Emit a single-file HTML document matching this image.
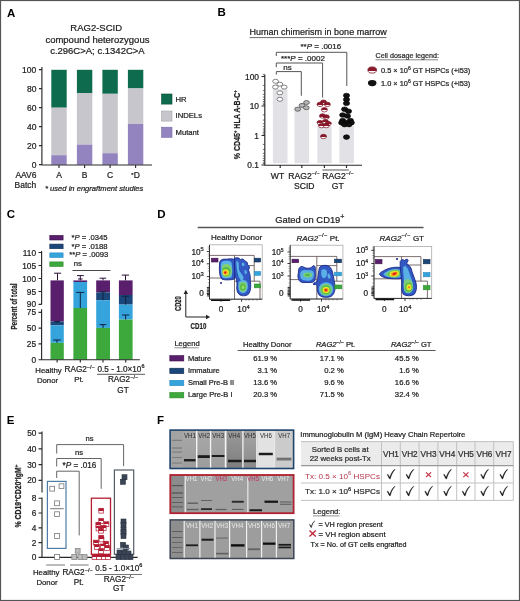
<!DOCTYPE html>
<html><head><meta charset="utf-8">
<style>
html,body{margin:0;padding:0;background:#fff;}
body{width:520px;height:601px;overflow:hidden;}
svg{display:block;filter:blur(0.3px);font-family:"Liberation Sans",sans-serif;}
.pl{font-weight:bold;font-size:11.5px;fill:#000;}
.t8{font-size:8px;fill:#222;}
.ax{stroke:#2a2a2a;stroke-width:1.15;fill:none;}
g[fill="#222"] text,text[fill="#222"],g[fill="#333"] text,text[fill="#333"]{stroke:#222;stroke-width:0.22px;}
</style></head>
<body>
<svg width="520" height="601" viewBox="0 0 520 601">
<rect x="0" y="0" width="520" height="601" fill="#fff"/>

<!-- ============ PANEL A ============ -->
<g id="pA">
<text class="pl" x="7" y="16.5">A</text>
<g font-size="9.5" fill="#222" text-anchor="middle">
<text x="96.2" y="31">RAG2-SCID</text>
<text x="97.4" y="42.7">compound heterozygous</text>
<text x="97.4" y="53.6">c.296C&gt;A; c.1342C&gt;A</text>
</g>
<!-- bars -->
<g>
<rect x="51.3" y="69.8" width="15.4" height="37.9" fill="#0e6b4d"/>
<rect x="51.3" y="107.7" width="15.4" height="47.5" fill="#c7c6cc"/>
<rect x="51.3" y="155.2" width="15.4" height="9.6" fill="#9384c0"/>
<rect x="76.9" y="69.8" width="15.4" height="23.2" fill="#0e6b4d"/>
<rect x="76.9" y="93" width="15.4" height="51.6" fill="#c7c6cc"/>
<rect x="76.9" y="144.6" width="15.4" height="20.2" fill="#9384c0"/>
<rect x="102.4" y="69.8" width="15.4" height="24" fill="#0e6b4d"/>
<rect x="102.4" y="93.8" width="15.4" height="59.4" fill="#c7c6cc"/>
<rect x="102.4" y="153.2" width="15.4" height="11.6" fill="#9384c0"/>
<rect x="127.9" y="69.8" width="15.4" height="18.6" fill="#0e6b4d"/>
<rect x="127.9" y="88.4" width="15.4" height="35.6" fill="#c7c6cc"/>
<rect x="127.9" y="124" width="15.4" height="40.8" fill="#9384c0"/>
</g>
<path class="ax" d="M41.9 67V165H152 M39 69.6H42 M39 88.6H42 M39 107.6H42 M39 126.6H42 M39 145.6H42 M39 164.6H42 M59 165V168 M84.6 165V168 M110.1 165V168 M135.6 165V168"/>
<g font-size="8.5" fill="#222" text-anchor="end">
<text x="36.3" y="72.6">100</text>
<text x="36.5" y="91.5">80</text>
<text x="36.5" y="110.5">60</text>
<text x="36.5" y="129.5">40</text>
<text x="36.5" y="148.5">20</text>
<text x="36.5" y="167.5">0</text>
</g>
<g font-size="8.5" fill="#222" text-anchor="middle">
<text x="59" y="177.7">A</text>
<text x="84.6" y="177.7">B</text>
<text x="110.1" y="177.7">C</text>
<text x="135.6" y="177.7"><tspan font-size="6" dy="-1">*</tspan><tspan dy="1">D</tspan></text>
</g>
<g font-size="8.5" fill="#222">
<text x="15.4" y="177.7">AAV6</text>
<text x="14.5" y="187.7">Batch</text>
</g>
<text x="45" y="191" font-size="7.6" font-style="italic" fill="#222">* used in engraftment studies</text>
<rect x="161.6" y="94" width="10.4" height="10.1" fill="#0e6b4d" stroke="#0a4a36" stroke-width="0.6"/>
<rect x="161.6" y="111" width="10.4" height="10.1" fill="#c7c6cc" stroke="#a8a7ad" stroke-width="0.6"/>
<rect x="161.6" y="127.2" width="10.4" height="10.1" fill="#9384c0" stroke="#7a6aa8" stroke-width="0.6"/>
<g font-size="7.7" fill="#222">
<text x="175.5" y="101.5">HR</text>
<text x="175.5" y="118.3">INDELs</text>
<text x="175.5" y="134.6">Mutant</text>
</g>
</g>

<!-- ============ PANEL B ============ -->
<g id="pB">
<text class="pl" x="217.5" y="16">B</text>
<text x="249.6" y="35" font-size="9" fill="#222">Human chimerism in bone marrow</text>
<line x1="249.6" y1="37.6" x2="386.5" y2="37.6" stroke="#444" stroke-width="0.8"/>
<!-- bars -->
<g fill="#e1e1e6">
<rect x="272.9" y="89.2" width="14.6" height="74"/>
<rect x="294.5" y="106.7" width="14.6" height="56.5"/>
<rect x="317.3" y="126.4" width="14.4" height="36.8"/>
<rect x="339.4" y="126.4" width="14.5" height="36.8"/>
</g>
<!-- axes -->
<path class="ax" d="M264.8 74.4V165.2H362 M261.5 76.5H264.8 M261.5 106H264.8 M261.5 135.5H264.8 M261.5 165H264.8 M280.2 165V168 M301.8 165V168 M324.4 165V168 M346.5 165V168"/>
<path stroke="#333" stroke-width="0.7" fill="none" d="M262.8 74.4H264.8 M262.8 85.4H264.8M262.8 90.6H264.8M262.8 94.3H264.8M262.8 97.1H264.8M262.8 99.5H264.8M262.8 101.5H264.8M262.8 103.2H264.8M262.8 104.6H264.8
M262.8 114.9H264.8M262.8 120.1H264.8M262.8 123.8H264.8M262.8 126.6H264.8M262.8 129H264.8M262.8 131H264.8M262.8 132.7H264.8M262.8 134.1H264.8
M262.8 144.4H264.8M262.8 149.6H264.8M262.8 153.3H264.8M262.8 156.1H264.8M262.8 158.5H264.8M262.8 160.5H264.8M262.8 162.2H264.8M262.8 163.6H264.8"/>
<g font-size="8.4" fill="#222" text-anchor="end">
<text x="259" y="79.5">100</text>
<text x="259" y="109">10</text>
<text x="259" y="138.6">1</text>
<text x="259" y="168.2">0.1</text>
</g>
<text transform="translate(240.2 159.2) rotate(-90) scale(0.734 1)" font-size="9.6" font-weight="bold" fill="#222">% CD45<tspan dy="-3" font-size="5.5">+</tspan><tspan dy="3"> HLA A-B-C</tspan><tspan dy="-3" font-size="5.5">+</tspan></text>
<line x1="322.3" y1="170" x2="348.8" y2="170" stroke="#666" stroke-width="1.1"/>
<g font-size="8.6" fill="#222" text-anchor="middle">
<text x="277.5" y="178.5">WT</text>
<text x="304" y="178.5">RAG2<tspan font-size="5.5" dy="-3.5">−/−</tspan></text>
<text x="304.3" y="188.5">SCID</text>
<text x="338" y="178.5">RAG2<tspan font-size="5.5" dy="-3.5">−/−</tspan></text>
<text x="337.8" y="188.5">GT</text>
</g>
<!-- brackets -->
<path d="M276.3 74.6V71.6H301.3V95.8 M276.3 67.2V63H322.6V97.5 M276.3 56V52.3H346.8V86" stroke="#555" stroke-width="1" fill="none"/>
<g font-size="8" fill="#222">
<text x="283.3" y="69.6">ns</text>
<text x="281" y="61">***<tspan font-style="italic">P</tspan> = .0002</text>
<text x="300.5" y="49.4">**<tspan font-style="italic">P</tspan> = .0016</text>
</g>
<!-- WT open circles -->
<g fill="#fff" stroke="#666" stroke-width="0.8">
<ellipse cx="275.6" cy="81.3" rx="2.9" ry="2"/>
<ellipse cx="279.9" cy="84.2" rx="2.9" ry="2"/>
<ellipse cx="275.4" cy="87.1" rx="2.9" ry="2"/>
<ellipse cx="284.2" cy="87.1" rx="2.9" ry="2"/>
<ellipse cx="279.9" cy="92.8" rx="2.9" ry="2"/>
<ellipse cx="279.9" cy="99.3" rx="2.9" ry="2"/>
</g>
<g fill="#b5b5b5" stroke="#555" stroke-width="0.8">
<ellipse cx="306.5" cy="102.5" rx="2.9" ry="2"/>
<ellipse cx="302" cy="105.4" rx="2.9" ry="2"/>
<ellipse cx="306.3" cy="107.7" rx="2.9" ry="2"/>
<ellipse cx="297.7" cy="109.2" rx="2.9" ry="2"/>
</g>
<!-- red half circles -->
<defs>
<linearGradient id="half" x1="0" y1="0" x2="0" y2="1"><stop offset="0.62" stop-color="#8c1a2c"/><stop offset="0.62" stop-color="#fff"/></linearGradient>
</defs>
<g fill="url(#half)" stroke="#7a1424" stroke-width="0.7">
<ellipse cx="323.5" cy="102.2" rx="3" ry="2.2"/>
<ellipse cx="320" cy="104.4" rx="3" ry="2.2"/>
<ellipse cx="327.3" cy="104.4" rx="3" ry="2.2"/>
<ellipse cx="324.4" cy="109.8" rx="3" ry="2.2"/>
<ellipse cx="322.5" cy="116" rx="3" ry="2.2"/>
<ellipse cx="326.3" cy="117" rx="3" ry="2.2"/>
<ellipse cx="320" cy="122.6" rx="3" ry="2.2"/>
<ellipse cx="325.4" cy="121.6" rx="3" ry="2.2"/>
<ellipse cx="328.3" cy="123.6" rx="3" ry="2.2"/>
<ellipse cx="321.5" cy="125.6" rx="3" ry="2.2"/>
<ellipse cx="326.3" cy="125.6" rx="3" ry="2.2"/>
<ellipse cx="323.5" cy="136.5" rx="3" ry="2.2"/>
</g>
<g fill="#111" stroke="#000" stroke-width="0.6">
<ellipse cx="346.5" cy="95.5" rx="3.1" ry="2.3"/>
<ellipse cx="346.5" cy="99.5" rx="3.1" ry="2.3"/>
<ellipse cx="346.5" cy="103.3" rx="3.1" ry="2.3"/>
<ellipse cx="344.6" cy="109.2" rx="3.1" ry="2.3"/>
<ellipse cx="348.5" cy="111.2" rx="3.1" ry="2.3"/>
<ellipse cx="342.7" cy="115" rx="3.1" ry="2.3"/>
<ellipse cx="347.5" cy="116" rx="3.1" ry="2.3"/>
<ellipse cx="342.7" cy="120.6" rx="3.1" ry="2.3"/>
<ellipse cx="350.4" cy="120.6" rx="3.1" ry="2.3"/>
<ellipse cx="346.5" cy="122.6" rx="3.1" ry="2.3"/>
<ellipse cx="341.7" cy="122.8" rx="3.1" ry="2.3"/>
<ellipse cx="351.3" cy="122.8" rx="3.1" ry="2.3"/>
<ellipse cx="344.5" cy="124.6" rx="3.1" ry="2.3"/>
<ellipse cx="349" cy="124.6" rx="3.1" ry="2.3"/>
<ellipse cx="346.5" cy="137.1" rx="3.1" ry="2.3"/>
</g>
<!-- legend -->
<text x="375.5" y="58" font-size="7.2" fill="#333">Cell dosage legend:</text>
<line x1="375.5" y1="59.8" x2="438" y2="59.8" stroke="#555" stroke-width="0.7"/>
<ellipse cx="372.2" cy="70" rx="4.3" ry="3.1" fill="url(#half)" stroke="#7a1424" stroke-width="0.8"/>
<ellipse cx="372.2" cy="83.1" rx="4.3" ry="3.1" fill="#111"/>
<g font-size="7.4" fill="#222">
<text x="381" y="72.8">0.5 × 10<tspan font-size="5" dy="-3">6</tspan><tspan dy="3"> GT HSPCs (+i53)</tspan></text>
<text x="381" y="85.8">1.0 × 10<tspan font-size="5" dy="-3">6</tspan><tspan dy="3"> GT HSPCs (+i53)</tspan></text>
</g>
</g>

<!-- ============ PANEL C ============ -->
<g id="pC">
<text class="pl" x="6.8" y="218.2">C</text>
<!-- legend -->
<g stroke-width="0.6">
<rect x="49.8" y="235.4" width="13.3" height="4.6" fill="#5a1f6c" stroke="#3b0f4a"/>
<rect x="49.8" y="244.1" width="13.3" height="4.6" fill="#1b467a" stroke="#102a50"/>
<rect x="49.8" y="252.9" width="13.3" height="4.6" fill="#35a4dd" stroke="#2a88c0"/>
<rect x="49.8" y="261.9" width="13.3" height="4.6" fill="#3da83c" stroke="#2a8a2a"/>
</g>
<g font-size="7.7" fill="#222">
<text x="71.5" y="239.8">*<tspan font-style="italic">P</tspan> = .0345</text>
<text x="71.5" y="248.5">*<tspan font-style="italic">P</tspan> = .0188</text>
<text x="69.2" y="257.4">**<tspan font-style="italic">P</tspan> = .0093</text>
<text x="73.8" y="266.2">ns</text>
</g>
<line x1="72.4" y1="270.5" x2="110.4" y2="270.5" stroke="#333" stroke-width="0.9"/>
<!-- bars -->
<!-- bar1 -->
<rect x="50.5" y="280.4" width="13.3" height="41.2" fill="#5a1f6c"/>
<rect x="50.5" y="321.6" width="13.3" height="3.8" fill="#1b467a"/>
<rect x="50.5" y="325.4" width="13.3" height="17.4" fill="#35a4dd"/>
<rect x="50.5" y="342.8" width="13.3" height="16.9" fill="#3da83c"/>
<!-- bar2 -->
<rect x="73.4" y="280.4" width="13.7" height="1.6" fill="#5a1f6c"/>
<rect x="73.4" y="282" width="13.7" height="26" fill="#35a4dd"/>
<rect x="73.4" y="308" width="13.7" height="51.7" fill="#3da83c"/>
<!-- bar3 -->
<rect x="96.2" y="280.4" width="13.8" height="12" fill="#5a1f6c"/>
<rect x="96.2" y="292.4" width="13.8" height="7.8" fill="#1b467a"/>
<rect x="96.2" y="300.2" width="13.8" height="27.7" fill="#35a4dd"/>
<rect x="96.2" y="327.9" width="13.8" height="31.8" fill="#3da83c"/>
<!-- bar4 -->
<rect x="118.9" y="280.4" width="13.7" height="14.6" fill="#5a1f6c"/>
<rect x="118.9" y="295" width="13.7" height="9.6" fill="#1b467a"/>
<rect x="118.9" y="304.6" width="13.7" height="15" fill="#35a4dd"/>
<rect x="118.9" y="319.6" width="13.7" height="40.1" fill="#3da83c"/>
<!-- error bars -->
<path fill="none" stroke="#2a1038" stroke-width="1" d="M57.5 280.4V273.2M54.1 273.2H61.1 M80.3 280.4V275.6M77 275.6H83.8M78 279H82.6 M103 280.4V278.2M99.5 278.2H106.2 M125.5 280.4V275.1M121.8 275.1H129.1"/>
<path fill="none" stroke="#0f2340" stroke-width="1" d="M57 340V342.8M53.2 340H60.8 M80.3 292.4V308M76.1 292.4H84.3 M103 324.6V327.9M99.6 324.6H106.3 M125.6 315V319.6M122 315H129.2 M103 291.8V300.2M99.8 291.8H106.2 M125.6 296.2V304.6M122.2 296.2H129 M57 321.6V323M54 321.6H60"/>
<!-- axes -->
<path class="ax" d="M41.6 251V304.4 M41.6 309.2V359.7H139.8 M38.5 252.5H41.6 M38.5 265.5H41.6 M38.5 278.5H41.6 M38.5 291.5H41.6 M38.5 304.4H41.6 M38.5 312.3H41.6 M38.5 328.1H41.6 M38.5 343.9H41.6 M38.5 359.7H41.6 M57.1 359.7V362.5 M80.3 359.7V362.5 M103 359.7V362.5 M125.7 359.7V362.5"/>
<g font-size="8.3" fill="#222" text-anchor="end">
<text x="36" y="255.5">110</text>
<text x="36" y="268.5">105</text>
<text x="36" y="281.5">100</text>
<text x="36" y="294.5">95</text>
<text x="36" y="307.4">90</text>
<text x="36" y="315.3">75</text>
<text x="36" y="331.1">50</text>
<text x="36" y="346.9">25</text>
<text x="36" y="362.7">0</text>
</g>
<text transform="translate(17.4 329.6) rotate(-90) scale(0.72 1)" font-size="8.8" font-weight="bold" fill="#222">Percent of total</text>
<g font-size="8.2" fill="#222" text-anchor="middle">
<text x="48.5" y="373" font-size="7.8">Healthy</text>
<text x="47.5" y="383" font-size="7.8">Donor</text>
<text x="79.7" y="372">RAG2<tspan font-size="5.5" dy="-3.5">−/−</tspan></text>
<text x="79" y="382.3" font-size="7.8">Pt.</text>
<text x="121" y="371.7">0.5 - 1.0×10<tspan font-size="5.5" dy="-3.5">6</tspan></text>
<text x="123" y="382.3">RAG2<tspan font-size="5.5" dy="-3.5">−/−</tspan></text>
<text x="123" y="392.5">GT</text>
</g>
<line x1="97" y1="374.3" x2="145" y2="374.3" stroke="#333" stroke-width="0.8"/>
</g>

<!-- ============ PANEL D ============ -->
<g id="pD">
<defs>
<filter id="bl" x="-30%" y="-30%" width="160%" height="160%"><feGaussianBlur stdDeviation="0.6"/></filter>
</defs>
<text class="pl" x="157.2" y="217.7">D</text>
<text x="275.2" y="222.6" font-size="9.4" fill="#222">Gated on CD19<tspan font-size="7" dy="-3.8">+</tspan></text>
<line x1="197.7" y1="227.5" x2="423.5" y2="227.5" stroke="#555" stroke-width="1.4"/>
<g font-size="8" fill="#222">
<text x="211" y="240">Healthy Donor</text>
<text x="296.5" y="240.6"><tspan font-style="italic">RAG2</tspan><tspan font-size="5.8" dy="-3.2" letter-spacing="0.3">−/−</tspan><tspan dy="3.2"> Pt.</tspan></text>
<text x="379.6" y="240.6"><tspan font-style="italic">RAG2</tspan><tspan font-size="5.8" dy="-3.2" letter-spacing="0.3">−/−</tspan><tspan dy="3.2"> GT</tspan></text>
</g>
<!-- plot boxes -->
<g fill="none" stroke="#aaa" stroke-width="0.8">
<rect x="209.5" y="244.8" width="52.7" height="54.4"/>
<rect x="290.2" y="245.2" width="52.7" height="53.8"/>
<rect x="374" y="246.5" width="57.7" height="51.9"/>
</g>
<!-- gates -->
<g fill="none" stroke="#5a4a4a" stroke-width="0.8">
<path d="M209.5 255.4H254.2 M234.5 255.4V299.2 M209.5 278H234.5 M244.3 265.6H254.2 M254.2 255.4V281.2 M234.5 281.2H260V299.2"/>
<path d="M290.2 256.4H336.8 M316.8 256.4V299 M290.2 279.6H316.8 M316.8 265.6H336.8 M336.8 256.4V281.2 M316.8 281.2H342.9"/>
<path d="M374 256.6H420.9 M401.6 256.6V298.4 M374 278.8H401.6 M401.6 265H420.9 M420.9 256.6V281.1 M401.6 281.1H427.4V298.4"/>
</g>
<!-- density blobs plot1 -->
<g filter="url(#bl)" stroke-linejoin="round">
<path d="M219.6 263 C220 259.5 223 258.8 227 259.2 C230 258.6 233 258.8 234.5 259.5 L234.5 279 C231 280 226 280.2 222.5 279.5 C220 278 219.3 273 219.4 268 Z" fill="#3158c4" stroke="#1c2a88" stroke-width="0.9"/>
<path d="M221 264 C221.3 261 224 260.3 227.5 260.8 C230 260.8 231.5 262 231.8 264 C232.5 268 232.5 274 231.5 277.5 C228.5 278.5 225 278.6 222.8 277.8 C221 276 220.6 270 221 264Z" fill="#5ab2e6"/>
<path d="M221.8 267.5 C222.3 264.5 225 263.5 228 264.2 C231 265 232 268 231.8 272 C231.5 276 229 277.6 226 277.4 C223 277 221.6 273 221.8 267.5Z" fill="#84cf70"/>
<path d="M222.6 268.5 C224.5 266.3 228.5 266.5 230.2 269 C231 272.5 229.8 276 226.5 276.3 C223.5 276.3 222.3 273 222.6 268.5Z" fill="#52bb46"/>
<ellipse cx="225.8" cy="272.4" rx="3.3" ry="3.2" fill="#e4e22a"/>
<ellipse cx="225.4" cy="272.6" rx="2" ry="1.9" fill="#f29a1c"/>
<ellipse cx="225.2" cy="272.6" rx="1.2" ry="1.1" fill="#e4201c"/>
<path d="M234.5 258.3 C237 257.3 239.5 258 240.5 259.5 C242 258.5 244 259 244.5 260.8 C246 261 248 262.5 247.5 264.5 C249.5 265.5 250 268 248.5 270 C250 273 250.5 277 250.3 281 C251 285 251 290 249 293.5 C247 296 243 296.3 240 295 C237 293 236.3 289 237 285 C237 281 236 278 235 276 L234.5 270 Z" fill="#3158c4" stroke="#1c2a88" stroke-width="0.9"/>
<path d="M236.2 261.5 C237.5 261 238.5 262 238.8 263.5 C239 266 238.5 269 239.5 271 C240.5 273 242 274 243 276 C244 278 243.5 280 242 280.5 C240.5 280.5 239.5 278.5 238.5 276 C237.5 273 236.5 268 236.2 261.5Z" fill="#5ab2e6"/>
<path d="M242 263 C243.5 262.5 244.8 263.5 244.6 265 C244 266.5 242.3 266.5 241.8 265 Z" fill="#5ab2e6"/>
<path d="M244.5 270 C246 269.5 247 271 246.8 273 C246.5 274.5 245 274.5 244.5 273 Z" fill="#5ab2e6"/>
<path d="M238.3 283 C239.5 279.5 245 279 247.2 282 C248.6 286 248 291 244.5 293 C240.5 293.8 238.5 291 238.3 287 Z" fill="#5ab2e6"/>
<path d="M239.3 284 C240.5 281.5 244.5 281.2 246.3 283.5 C247.3 287 246.5 290.5 243.8 291.8 C240.8 292.2 239.4 290 239.3 287 Z" fill="#84cf70"/>
<ellipse cx="242.8" cy="287" rx="2.8" ry="3.6" fill="#52bb46"/>
<ellipse cx="243" cy="287.2" rx="1.4" ry="1.9" fill="#98d868"/>
<circle cx="221" cy="283" r="1" fill="#1c2a88"/>
</g>
<!-- density blobs plot2 -->
<g filter="url(#bl)" stroke-linejoin="round">
<path d="M298.5 272 C298 268.5 300 266.2 302.5 266.5 C304.5 267.5 306 268.5 309 268.2 C311.5 268 312.5 266 314 265.5 C315.5 266.5 315.5 269 315.3 272 C315.5 276 315.5 279 314.5 281 C313 283 310 282.5 306 282.5 C302 283 299.5 282 298.6 279.5 C297.5 277 298 274.5 298.5 272Z" fill="#3158c4" stroke="#1c2a88" stroke-width="0.9"/>
<path d="M300.5 272.5 C301.5 270 304 269.5 307 270.3 C310 270.2 313 270 313.8 272.5 C314.2 276 313.5 279.5 310 280.5 C306 281 302.5 280.5 301 278.5 C300 276.5 300 274.5 300.5 272.5Z" fill="#58b0e6"/>
<ellipse cx="307.6" cy="275" rx="4.4" ry="2.4" fill="#7ccc78"/>
<ellipse cx="307.6" cy="275" rx="2.6" ry="1.3" fill="#4cbc4a"/>
<path d="M319.5 267.5 C320.5 265.5 324 265 327 265.5 C330 266 331.5 268.5 332.5 272 C333.5 276 334 280 334.8 284.5 C335.5 289 334.8 294 331 296.5 C327 298 322 297.5 319.5 295.5 C317.2 293 317 289 317.2 285.5 C316.5 284.5 314.5 284.5 313.5 284 C314 282.5 316 282 317.5 281.5 C317.8 277 318.5 271 319.5 267.5Z" fill="#3158c4" stroke="#1c2a88" stroke-width="0.9"/>
<path d="M321.5 270 C323 268.8 325.5 269 326.5 270.5 C327.5 272.5 327 275 326 277 C325 278.5 323 278.5 322 277 C321 275 321 272 321.5 270Z" fill="#58b0e6"/>
<path d="M327.8 273.5 C329 273 330.3 274.5 330.5 276.5 C330.6 278.5 329.3 279.3 328.3 278.3 C327.5 277 327.3 275 327.8 273.5Z" fill="#58b0e6"/>
<ellipse cx="326" cy="289.3" rx="7.2" ry="7" fill="#58b0e6"/>
<ellipse cx="326" cy="289.6" rx="6" ry="5.8" fill="#7ccc78"/>
<ellipse cx="326" cy="289.8" rx="4.8" ry="4.6" fill="#4cbc4a"/>
<ellipse cx="326" cy="290" rx="3.5" ry="3.3" fill="#e6e42a"/>
<ellipse cx="326" cy="290.1" rx="2.3" ry="2.2" fill="#f29a1c"/>
<ellipse cx="326" cy="290.1" rx="1.3" ry="1.2" fill="#e4201c"/>
<circle cx="314" cy="284.3" r="0.9" fill="#1c2a88"/>
</g>
<!-- density blobs plot3 -->
<g filter="url(#bl)" stroke-linejoin="round">
<path d="M379.3 274.2 C380 272.5 383 271 386 269.5 C390 267.6 395 267 399 267.3 L401.6 267.5 L401.6 278.6 C397 279 391 279 386 278 C383 277.2 380.5 276 379.3 274.2Z" fill="#3158c4" stroke="#1c2a88" stroke-width="0.9"/>
<path d="M383.5 274 C385 272.3 389 270 393.5 269.3 C397 269 400 269.3 400.8 270.5 L400.8 277.3 C396 278 390 277.7 386.5 276.5 C384.5 275.8 383.5 275 383.5 274Z" fill="#58b0e6"/>
<path d="M385.5 274 C387 272 391 270 395 269.6 C398.5 269.4 400.5 270.5 400.6 272.5 C400.7 275.5 399 277.3 394.5 277.6 C390 277.8 386.8 276.3 385.5 274Z" fill="#7ccc78"/>
<path d="M387.5 274 C389 272.3 392 270.8 395 270.6 C398 270.5 399.8 271.3 399.9 273 C400 275.3 398.5 276.7 394.7 276.9 C391 277 388.5 275.8 387.5 274Z" fill="#4cbc4a"/>
<ellipse cx="394.3" cy="273.8" rx="5" ry="2.9" fill="#e6e42a" transform="rotate(-10 394.3 273.8)"/>
<ellipse cx="394.4" cy="273.8" rx="3.3" ry="1.9" fill="#f29a1c" transform="rotate(-15 394.4 273.8)"/>
<ellipse cx="394.5" cy="273.7" rx="2.2" ry="1.1" fill="#e4201c" transform="rotate(-20 394.5 273.7)"/>
<path d="M400.2 261.5 C401 259.5 403.2 259 404.5 260.5 C405.5 259.2 407.5 258.8 408.2 260 C408 261.5 406.5 262.5 406.8 264 C409.5 265 411.5 268 412 271.5 C413 275 415 279 416 283 C417 287 416.5 292 414 294.5 C411 296.3 406 296 403.5 294.5 C401.5 292.5 401.5 289 401.8 285 C402 281 401.5 278 401 275 C400.5 271 400 266 400.2 261.5Z" fill="#3158c4" stroke="#1c2a88" stroke-width="0.9"/>
<path d="M403.5 266.5 C404.5 265.5 406 266 407 267.5 C408.5 270 409.5 273 410.5 276.5 C411.8 280 413.5 284 413.2 288 C412.8 292 410.5 293.5 407.5 293.3 C404.8 293 403.8 290.5 403.9 287 C404 283 403.8 279 403.5 275 C403.2 271 403 268.5 403.5 266.5Z" fill="#58b0e6"/>
<path d="M404 281 C405.5 278.5 409 278.5 411.5 281 C413.3 284 413.5 289 411 292 C408.5 293.5 405.5 293 404.5 290.5 C403.5 287.5 403.5 284 404 281Z" fill="#7ccc78"/>
<ellipse cx="408.8" cy="287.2" rx="3.6" ry="4.5" fill="#4cbc4a"/>
<ellipse cx="409" cy="287.3" rx="2.6" ry="3.2" fill="#e6e42a"/>
<ellipse cx="409.2" cy="287.2" rx="1.1" ry="1" fill="#f07a1c"/>
<circle cx="397" cy="259" r="1.1" fill="#1c2a88"/>
</g>
<!-- swatches -->
<g stroke-width="0.6">
<rect x="211.5" y="258.2" width="6.5" height="3.8" fill="#5a1f6c" stroke="#3b0f4a"/>
<rect x="254.3" y="258.2" width="6.3" height="3.8" fill="#1b467a" stroke="#102a50"/>
<rect x="254.3" y="271.5" width="6.3" height="3.8" fill="#35a4dd" stroke="#2a88c0"/>
<rect x="254.3" y="284" width="6.3" height="3.8" fill="#3da83c" stroke="#2a8a2a"/>
<rect x="292" y="259.2" width="6.6" height="3.5" fill="#5a1f6c" stroke="#3b0f4a"/>
<rect x="334.6" y="259.2" width="6.8" height="3.5" fill="#1b467a" stroke="#102a50"/>
<rect x="334.6" y="272.2" width="6.8" height="3.6" fill="#35a4dd" stroke="#2a88c0"/>
<rect x="334.6" y="285" width="7.2" height="3.8" fill="#3da83c" stroke="#2a8a2a"/>
<rect x="375.4" y="259.5" width="6.6" height="4.3" fill="#5a1f6c" stroke="#3b0f4a"/>
<rect x="423.4" y="259.5" width="6.6" height="4.3" fill="#1b467a" stroke="#102a50"/>
<rect x="423.4" y="272.5" width="6.6" height="4.3" fill="#35a4dd" stroke="#2a88c0"/>
<rect x="423.4" y="285.5" width="6.6" height="4.3" fill="#3da83c" stroke="#2a8a2a"/>
</g>
<!-- axis ticks -->
<g fill="none" stroke="#222" stroke-width="0.9">
<path d="M209.5 245V299.2H262.2 M290.2 245.2V299H342.9 M374 246.5V298.4H431.7"/>
<path d="M209.5 251.5H206.8 M209.5 263.8H206.8 M209.5 276.6H206.8 M209.5 293.5H206.8 M221 299.2V301.8 M241.6 299.2V301.8"/>
<path d="M290.2 252H287.5 M290.2 263.5H287.5 M290.2 276H287.5 M290.2 293.3H287.5 M300.6 299V301.6 M321.5 299V301.6"/>
<path d="M374 250.4H371.3 M374 263.5H371.3 M374 276H371.3 M374 293.3H371.3 M384.4 298.4V301 M405 298.4V301"/>
</g>
<g fill="none" stroke="#444" stroke-width="0.5">
<path d="M209.5 247H207.8M209.5 249H207.8M209.5 254H207.8M209.5 256H207.8M209.5 258.5H207.8M209.5 266.5H207.8M209.5 268.5H207.8M209.5 271H207.8M209.5 279.5H207.8M209.5 283H207.8M209.5 286H207.8M209.5 289H207.8M209.5 291H207.8M209.5 296H207.8 M213 299.2V300.8M215 299.2V300.8M217 299.2V300.8M225 299.2V300.8M228 299.2V300.8M231 299.2V300.8M246 299.2V300.8M249 299.2V300.8M253 299.2V300.8M257 299.2V300.8"/>
<path d="M290.2 248H288.5M290.2 250H288.5M290.2 254.5H288.5M290.2 256.5H288.5M290.2 259H288.5M290.2 266.5H288.5M290.2 268.5H288.5M290.2 271H288.5M290.2 279H288.5M290.2 283H288.5M290.2 286H288.5M290.2 289H288.5M290.2 291H288.5M290.2 296H288.5 M294 299V300.6M296 299V300.6M298 299V300.6M304 299V300.6M307 299V300.6M310 299V300.6M326 299V300.6M329 299V300.6M333 299V300.6M337 299V300.6"/>
<path d="M374 247H372.3M374 249H372.3M374 253H372.3M374 255.5H372.3M374 258H372.3M374 266.5H372.3M374 268.5H372.3M374 271H372.3M374 279H372.3M374 283H372.3M374 286H372.3M374 289H372.3M374 291H372.3M374 296H372.3 M378 298.4V300M380 298.4V300M382 298.4V300M388 298.4V300M391 298.4V300M394 298.4V300M410 298.4V300M413 298.4V300M417 298.4V300M421 298.4V300"/>
</g>
<g stroke="#111" stroke-width="1.6"><path d="M211 300.2H230 M291.5 300H310 M375.5 299.4H394"/></g>
<g stroke="#222" stroke-width="0.9"><path d="M206.9 287.5H209.5M206.9 288.9H209.5M206.9 290.3H209.5M206.9 291.7H209.5M206.9 293.1H209.5M206.9 294.5H209.5M206.9 295.9H209.5M287.6 287.5H290.2M287.6 288.9H290.2M287.6 290.3H290.2M287.6 291.7H290.2M287.6 293.1H290.2M287.6 294.5H290.2M287.6 295.9H290.2M371.4 287.0H374.0M371.4 288.4H374.0M371.4 289.8H374.0M371.4 291.2H374.0M371.4 292.6H374.0M371.4 294.0H374.0M371.4 295.4H374.0"/></g>
<g font-size="8.2" fill="#222" text-anchor="end">
<text x="203.8" y="254.5">10<tspan font-size="5.8" dy="-3.2">5</tspan></text>
<text x="203.8" y="266.4">10<tspan font-size="5.8" dy="-3.2">4</tspan></text>
<text x="203.8" y="279.4">10<tspan font-size="5.8" dy="-3.2">3</tspan></text>
<text x="203.8" y="296.3">0</text>
<text x="283.6" y="254.8">10<tspan font-size="5" dy="-3">5</tspan></text>
<text x="283.6" y="266.3">10<tspan font-size="5" dy="-3">4</tspan></text>
<text x="283.6" y="278.8">10<tspan font-size="5" dy="-3">3</tspan></text>
<text x="283.6" y="296.1">0</text>
<text x="368" y="253.2">10<tspan font-size="5" dy="-3">5</tspan></text>
<text x="368" y="266.3">10<tspan font-size="5" dy="-3">4</tspan></text>
<text x="368" y="278.8">10<tspan font-size="5" dy="-3">3</tspan></text>
<text x="368" y="296.1">0</text>
</g>
<g font-size="8.2" fill="#222" text-anchor="middle">
<text x="221" y="312">0</text>
<text x="243.5" y="312">10<tspan font-size="5.8" dy="-3">4</tspan></text>
<text x="300.6" y="312.4">0</text>
<text x="323.2" y="312.4">10<tspan font-size="5.8" dy="-3">4</tspan></text>
<text x="384.4" y="312.4">0</text>
<text x="405.2" y="312.4">10<tspan font-size="5.8" dy="-3">4</tspan></text>
</g>
<!-- CD arrows -->
<path d="M185.8 317V293 M185.8 317H207" stroke="#222" stroke-width="1" fill="none"/>
<path d="M183.6 294L185.8 289.8L188 294Z M206 314.8L210.2 317L206 319.2Z" fill="#222"/>
<text transform="translate(180.9 311) rotate(-90) scale(0.66 1)" font-size="8.8" font-weight="bold" fill="#222">CD20</text>
<text transform="translate(190.6 328.6) scale(0.7 1)" font-size="8.8" font-weight="bold" fill="#222">CD10</text>
<!-- table legend -->
<text x="174.4" y="346.2" font-size="7.6" fill="#222">Legend</text>
<line x1="174.4" y1="347.8" x2="198.7" y2="347.8" stroke="#444" stroke-width="0.6"/>
<line x1="237.7" y1="350.5" x2="435.6" y2="350.5" stroke="#444" stroke-width="0.9"/>
<g font-size="7.6" fill="#222">
<text x="243" y="346.7">Healthy Donor</text>
<text x="315.9" y="346.7"><tspan font-style="italic">RAG2</tspan><tspan font-size="5" dy="-3">−/−</tspan><tspan dy="3"> Pt.</tspan></text>
<text x="390.9" y="346.7"><tspan font-style="italic">RAG2</tspan><tspan font-size="5" dy="-3">−/−</tspan><tspan dy="3"> GT</tspan></text>
</g>
<g stroke-width="0.6">
<rect x="169.8" y="355.6" width="14" height="5.4" fill="#5a1f6c" stroke="#3b0f4a"/>
<rect x="169.8" y="368.2" width="14" height="5.4" fill="#1b467a" stroke="#102a50"/>
<rect x="169.8" y="380.3" width="14" height="5.4" fill="#35a4dd" stroke="#2a88c0"/>
<rect x="169.8" y="392.5" width="14" height="5.4" fill="#3da83c" stroke="#2a8a2a"/>
</g>
<g font-size="7.5" fill="#222">
<text x="187.9" y="360.8">Mature</text>
<text x="187.9" y="372.8">Immature</text>
<text x="187.9" y="385">Small Pre-B II</text>
<text x="187.9" y="397">Large Pre-B I</text>
</g>
<g font-size="7.7" fill="#222" text-anchor="end">
<text x="277.2" y="361.1">61.9 %</text>
<text x="277.2" y="372.7">3.1 %</text>
<text x="277.2" y="385.1">13.6 %</text>
<text x="277.2" y="396.9">20.3 %</text>
<text x="343.8" y="361.1">17.1 %</text>
<text x="343.8" y="372.7">0.2 %</text>
<text x="343.8" y="385.1">9.6 %</text>
<text x="343.8" y="396.9">71.5 %</text>
<text x="418.8" y="361.1">45.5 %</text>
<text x="418.8" y="372.7">1.6 %</text>
<text x="418.8" y="385.1">16.6 %</text>
<text x="418.8" y="396.9">32.4 %</text>
</g>
</g>

<!-- ============ PANEL E ============ -->
<g id="pE">
<text class="pl" x="6.8" y="424">E</text>
<!-- axes -->
<path class="ax" d="M42 431.5V492.5 M42 497.5V557.4H137.7 M38.5 433.1H42 M38.5 448.8H42 M38.5 464.6H42 M38.5 480.3H42 M38.5 498.2H42 M38.5 513H42 M38.5 527.8H42 M38.5 542.6H42 M38.5 557.4H42"/>
<g font-size="8.3" fill="#222" text-anchor="end">
<text x="36.4" y="436.1">50</text>
<text x="36.4" y="451.8">40</text>
<text x="36.4" y="467.6">30</text>
<text x="36.4" y="483.3">20</text>
<text x="36.4" y="501.2">8</text>
<text x="36.4" y="516">6</text>
<text x="36.4" y="530.8">4</text>
<text x="36.4" y="545.6">2</text>
<text x="36.4" y="560.4">0</text>
</g>
<text transform="translate(21.2 527.4) rotate(-90) scale(0.8 1)" font-size="8.6" font-weight="bold" fill="#222">% CD19<tspan font-size="5.5" dy="-3">+</tspan><tspan dy="3">CD20</tspan><tspan font-size="5.5" dy="-3">+</tspan><tspan dy="3">IgM</tspan><tspan font-size="5.5" dy="-3">+</tspan></text>
<!-- brackets -->
<path d="M56.7 453.5V444.6H123.6V466.2 M56.7 466.5V458.5H101.2V488.8 M56.7 478V471.2H79.2V535.4" stroke="#666" stroke-width="1" fill="none"/>
<g font-size="8.2" fill="#222">
<text x="85.6" y="440.8" font-size="7.6">ns</text>
<text x="75.1" y="455" font-size="7.6">ns</text>
<text x="62.5" y="467.7">*<tspan font-style="italic">P</tspan> = .016</text>
</g>
<!-- boxes -->
<rect x="47.4" y="481.4" width="18.6" height="67" fill="none" stroke="#4d7aa6" stroke-width="1.2"/>
<rect x="91.4" y="498.2" width="19.1" height="56.1" fill="none" stroke="#b51f32" stroke-width="1.3"/>
<rect x="114.4" y="470" width="19.3" height="84.3" fill="none" stroke="#555c66" stroke-width="1.2"/>
<!-- HD squares -->
<g fill="#fff" stroke="#777" stroke-width="0.8">
<rect x="49.8" y="486.3" width="4.8" height="4.8"/>
<rect x="59.1" y="483.8" width="4.8" height="4.8"/>
<rect x="54.6" y="500.9" width="4.8" height="4.8"/>
<rect x="54.6" y="511.8" width="4.8" height="4.8"/>
<rect x="54.6" y="533.6" width="4.8" height="4.8"/>
<rect x="54.6" y="554.6" width="4.8" height="4.8"/>
</g>
<line x1="50.2" y1="508.7" x2="63.7" y2="508.7" stroke="#777" stroke-width="1"/>
<!-- Pt squares -->
<g fill="#bdbdbd" stroke="#888" stroke-width="0.8">
<rect x="75.3" y="548.4" width="4.8" height="4.8"/>
<rect x="71.8" y="554.6" width="4.8" height="4.8"/>
<rect x="77.9" y="554.6" width="4.8" height="4.8"/>
<rect x="82.2" y="554.6" width="4.8" height="4.8"/>
</g>
<!-- GT 0.5 squares -->
<defs>
<linearGradient id="halfsq" x1="0" y1="0" x2="0" y2="1"><stop offset="0.5" stop-color="#b31a30"/><stop offset="0.5" stop-color="#fff"/></linearGradient>
</defs>
<g fill="url(#halfsq)" stroke="#b31a30" stroke-width="0.7">
<rect x="98.8" y="508.3" width="4.8" height="4.8"/>
<rect x="98.8" y="518.6" width="4.8" height="4.8"/>
<rect x="95.9" y="522.4" width="4.8" height="4.8"/>
<rect x="104" y="521.8" width="4.8" height="4.8"/>
<rect x="96.1" y="526.1" width="4.8" height="4.8"/>
<rect x="101.3" y="525.6" width="4.8" height="4.8"/>
<rect x="98.6" y="528.3" width="4.8" height="4.8"/>
<rect x="98.8" y="535.3" width="4.8" height="4.8"/>
<rect x="93.6" y="540.2" width="4.8" height="4.8"/>
<rect x="99.1" y="537.1" width="4.8" height="4.8"/>
<rect x="103.6" y="541.3" width="4.8" height="4.8"/>
<rect x="94.6" y="544.6" width="4.8" height="4.8"/>
<rect x="100.6" y="544" width="4.8" height="4.8"/>
<rect x="104.6" y="545.6" width="4.8" height="4.8"/>
<rect x="98.6" y="548.9" width="4.8" height="4.8"/>
<rect x="92.1" y="554.6" width="4.8" height="4.8"/>
<rect x="96.6" y="554.6" width="4.8" height="4.8"/>
<rect x="101.6" y="554.6" width="4.8" height="4.8"/>
<rect x="105.6" y="554.6" width="4.8" height="4.8"/>
</g>
<!-- GT 1.0 squares -->
<g fill="#3b4556" stroke="#2a3240" stroke-width="0.6">
<rect x="122" y="474.7" width="5" height="5"/>
<rect x="120.4" y="479.3" width="5" height="5"/>
<rect x="121" y="519" width="5" height="5"/>
<rect x="121" y="522.3" width="5" height="5"/>
<rect x="121" y="527.1" width="5" height="5"/>
<rect x="121" y="529.8" width="5" height="5"/>
<rect x="121" y="533.6" width="5" height="5"/>
<rect x="120.5" y="542.3" width="5" height="5"/>
<rect x="123.5" y="545" width="5" height="5"/>
<rect x="117" y="550" width="5" height="5"/>
<rect x="122" y="550" width="5" height="5"/>
<rect x="126" y="551" width="5" height="5"/>
<rect x="116" y="554.6" width="5" height="5"/>
<rect x="120.5" y="554.6" width="5" height="5"/>
<rect x="125" y="554.6" width="5" height="5"/>
<rect x="129" y="554.6" width="4" height="5"/>
</g>
<line x1="116.7" y1="548.6" x2="130.2" y2="548.6" stroke="#8a9aaa" stroke-width="1"/>
<!-- x labels -->
<path d="M46.2 565H65 M70 565H88.7 M95 574.5H142" stroke="#777" stroke-width="1" fill="none"/>
<g font-size="8.2" fill="#222" text-anchor="middle">
<text x="46.2" y="575" font-size="7.8">Healthy</text>
<text x="47" y="584.5" font-size="7.8">Donor</text>
<text x="77.5" y="575">RAG2<tspan font-size="5.5" dy="-3.5">−/−</tspan></text>
<text x="78.8" y="584.5">Pt.</text>
<text x="118.8" y="570.5">0.5 - 1.0×10<tspan font-size="5.5" dy="-3.5">6</tspan></text>
<text x="118.8" y="582">RAG2<tspan font-size="5.5" dy="-3.5">−/−</tspan></text>
<text x="118.8" y="591.3">GT</text>
</g>
</g>

<!-- ============ PANEL F ============ -->
<g id="pF">
<text class="pl" x="157" y="424">F</text>
<defs>
<linearGradient id="lg1" x1="0" y1="0" x2="0" y2="1"><stop offset="0" stop-color="#a9a9a9"/><stop offset="1" stop-color="#9c9c9c"/></linearGradient>
<linearGradient id="lg4" x1="0" y1="0" x2="0" y2="1"><stop offset="0" stop-color="#9a9a9a"/><stop offset="1" stop-color="#7e7e7e"/></linearGradient>
<linearGradient id="lg5" x1="0" y1="0" x2="0" y2="1"><stop offset="0" stop-color="#a5a5a5"/><stop offset="1" stop-color="#8a8a8a"/></linearGradient>
<filter id="bb" x="-20%" y="-100%" width="140%" height="300%"><feGaussianBlur stdDeviation="0.6"/></filter>
</defs>
<!-- GEL 1 -->
<rect x="170.3" y="430.3" width="123" height="38.2" fill="url(#lg1)"/>
<rect x="170.5" y="430.5" width="12.5" height="38" fill="#a3a3a3"/>

<rect x="226.5" y="430.5" width="15.8" height="38" fill="url(#lg4)"/>
<rect x="243.5" y="430.5" width="13" height="38" fill="url(#lg5)"/>
<rect x="257.3" y="430.5" width="17" height="38" fill="#e2e2e2"/>
<rect x="275.3" y="430.5" width="17.8" height="38" fill="#cbcbcb"/>
<g fill="#f4f4f4">
<rect x="196" y="430.5" width="1.4" height="38"/>
<rect x="209.9" y="430.5" width="1.3" height="38"/>
<rect x="224.8" y="430.5" width="1.6" height="38"/>
<rect x="242.3" y="430.5" width="1.2" height="38"/>
<rect x="256.2" y="430.5" width="1.1" height="38"/>
<rect x="274.2" y="430.5" width="1.1" height="38"/>
</g>
<g filter="url(#bb)">
<g fill="#6a6a6a" opacity="0.8">
<rect x="172" y="439.8" width="10" height="1"/>
<rect x="172" y="447.5" width="10" height="1.1"/>
<rect x="172" y="451.6" width="10" height="0.9"/>
<rect x="172" y="457" width="10" height="0.9"/>
<rect x="172" y="462.6" width="10" height="0.9"/>
</g>
<g fill="#1a1a1a">
<rect x="184" y="459.1" width="11.5" height="2.3"/>
<rect x="197.8" y="455.2" width="12" height="2.8"/>
<rect x="211.8" y="455" width="12.6" height="2"/>
<rect x="228" y="459.8" width="13.5" height="2.4"/>
<rect x="244" y="459.8" width="12" height="2.4"/>
<rect x="258.8" y="452.8" width="14" height="2.4"/>
</g>
<rect x="276.5" y="457.6" width="15" height="3" fill="#777" opacity="0.85"/>
<rect x="277" y="458.4" width="14" height="1" fill="#555" opacity="0.8"/>
</g>
<rect x="170.1" y="430.1" width="123.5" height="38.4" fill="none" stroke="#1e436c" stroke-width="1.6"/>
<g font-size="7.6" fill="#2a2a2a">
<text transform="translate(184 438) scale(0.8 1)">VH1</text>
<text transform="translate(198.3 438) scale(0.8 1)">VH2</text>
<text transform="translate(212.3 438) scale(0.8 1)">VH3</text>
<text transform="translate(228.3 438) scale(0.8 1)">VH4</text>
<text transform="translate(244 438) scale(0.8 1)">VH5</text>
<text transform="translate(260 438) scale(0.8 1)">VH6</text>
<text transform="translate(278.3 438) scale(0.8 1)">VH7</text>
</g>
<!-- GEL 2 -->
<rect x="170.5" y="475" width="123" height="38" fill="#a0a0a0"/>
<rect x="170.8" y="475.3" width="13.8" height="37.6" fill="#8c8c8c"/>
<g fill="#f0f0f0">
<rect x="184.6" y="475.3" width="1.2" height="37.6"/>
<rect x="247.3" y="475.3" width="1.1" height="37.6"/>
</g>
<g filter="url(#bb)">
<g fill="#4a4a4a" opacity="0.85">
<rect x="172" y="485" width="11" height="1.2"/>
<rect x="172" y="492.4" width="11" height="1.2"/>
<rect x="172" y="497" width="11" height="0.8"/>
<rect x="172" y="502" width="11" height="0.8"/>
<rect x="172" y="506.5" width="11" height="0.8"/>
</g>
<g fill="#555" opacity="0.85">
<rect x="187.5" y="502.5" width="10.5" height="1.4"/>
<rect x="187" y="508.8" width="11.5" height="1.4"/>
<rect x="201" y="500" width="11" height="1"/>
<rect x="215.5" y="508.9" width="11" height="1.2"/>
<rect x="232" y="508.9" width="11.5" height="1.1"/>
<rect x="280" y="501.4" width="11.5" height="1.1"/>
<rect x="280" y="503.7" width="11.5" height="1.1"/>
</g>
<g fill="#2a2a2a">
<rect x="201" y="508.2" width="11" height="1.8"/>
<rect x="231.8" y="500.8" width="12" height="1.9"/>
</g>
<g fill="#151515">
<rect x="249.5" y="509.3" width="12.5" height="1.9"/>
<rect x="264.5" y="500.6" width="13.5" height="2.2"/>
</g>
</g>
<rect x="170.3" y="475" width="123.3" height="38.2" fill="none" stroke="#b0202e" stroke-width="1.8"/>
<g font-size="7.6" fill="#ececec">
<text transform="translate(185.6 481.2) scale(0.8 1)">VH1</text>
<text transform="translate(200.4 481.2) scale(0.8 1)">VH2</text>
<text transform="translate(215.4 481.2) scale(0.8 1)" fill="#c0305a">VH3</text>
<text transform="translate(231.3 481.2) scale(0.8 1)">VH4</text>
<text transform="translate(247.3 481.2) scale(0.8 1)" fill="#c0305a">VH5</text>
<text transform="translate(261.4 481.2) scale(0.8 1)">VH6</text>
<text transform="translate(277.3 481.2) scale(0.8 1)">VH7</text>
</g>
<!-- GEL 3 -->
<rect x="170.5" y="520" width="123" height="38.4" fill="#9d9d9d"/>
<rect x="170.8" y="520.3" width="13" height="38" fill="#8e8e8e"/>
<g fill="#f0f0f0">
<rect x="183.6" y="520.3" width="1.2" height="38"/>
<rect x="199.3" y="520.3" width="1.2" height="38"/>
<rect x="214.4" y="520.3" width="1.2" height="38"/>
<rect x="229" y="520.3" width="1.2" height="38"/>
<rect x="246" y="520.3" width="1.2" height="38"/>
<rect x="261" y="520.3" width="1.2" height="38"/>
<rect x="275.8" y="520.3" width="1.2" height="38"/>
</g>
<g filter="url(#bb)">
<g fill="#555" opacity="0.85">
<rect x="172" y="531" width="10.5" height="1"/>
<rect x="172" y="537" width="10.5" height="1"/>
<rect x="172" y="542" width="10.5" height="0.8"/>
<rect x="172" y="547" width="10.5" height="0.8"/>
<rect x="172" y="552" width="10.5" height="0.8"/>
<rect x="216" y="537.6" width="12" height="0.9"/>
<rect x="216" y="552.8" width="12.5" height="1.6"/>
<rect x="248" y="548.4" width="12" height="1.7"/>
</g>
<g fill="#1e1e1e">
<rect x="186" y="544.4" width="12" height="1.8"/>
<rect x="201.5" y="538.7" width="12" height="2"/>
<rect x="278.5" y="543.9" width="12.5" height="1.8"/>
<rect x="278.5" y="546.6" width="12.5" height="1.7"/>
</g>
<g fill="#0e0e0e">
<rect x="231" y="544.2" width="13.5" height="2.4"/>
<rect x="263" y="542.5" width="12.5" height="2.3"/>
</g>
</g>
<rect x="170.2" y="519.9" width="123.6" height="38.6" fill="none" stroke="#3a4452" stroke-width="1.5"/>
<g font-size="7.6" fill="#ececec">
<text transform="translate(186 527.6) scale(0.8 1)">VH1</text>
<text transform="translate(201.3 527.6) scale(0.8 1)">VH2</text>
<text transform="translate(216.3 527.6) scale(0.8 1)">VH3</text>
<text transform="translate(231.5 527.6) scale(0.8 1)">VH4</text>
<text transform="translate(248 527.6) scale(0.8 1)">VH5</text>
<text transform="translate(263 527.6) scale(0.8 1)">VH6</text>
<text transform="translate(278.3 527.6) scale(0.8 1)">VH7</text>
</g>
<!-- TABLE -->
<text x="300.3" y="437" font-size="7.6" fill="#222">Immunoglobulin M (IgM) Heavy Chain Repertoire</text>
<rect x="301" y="441.6" width="212.3" height="24" fill="#ebebeb"/>
<g stroke="#bbb" stroke-width="0.9" fill="none">
<path d="M301 441.6H513.3 M301 483H513.3 M301 500.4H513.3"/>
<path d="M381.5 441.6V500.4 M400.3 441.6V500.4 M419.1 441.6V500.4 M437.9 441.6V500.4 M456.7 441.6V500.4 M475 441.6V500.4 M493.7 441.6V500.4 M513.3 441.6V500.4"/>
</g>
<line x1="301" y1="465.6" x2="513.3" y2="465.6" stroke="#999" stroke-width="1.1"/>
<g font-size="7.8" fill="#333" text-anchor="middle">
<text x="340.2" y="452">Sorted B cells at</text>
<text x="340.2" y="461">22 weeks post-Tx</text>
</g>
<g font-size="8.2" fill="#333" text-anchor="middle">
<text x="390.9" y="456.6">VH1</text>
<text x="409.7" y="456.6">VH2</text>
<text x="428.5" y="456.6">VH3</text>
<text x="447.3" y="456.6">VH4</text>
<text x="465.9" y="456.6">VH5</text>
<text x="484.4" y="456.6">VH6</text>
<text x="503.5" y="456.6">VH7</text>
</g>
<text x="305" y="478.6" font-size="8.1" fill="#b5344a">Tx: 0.5 × 10<tspan font-size="5.8" dy="-3.4">6</tspan><tspan dy="3.4"> HSPCs</tspan></text>
<text x="305" y="494" font-size="8.1" fill="#333">Tx: 1.0 × 10<tspan font-size="5.8" dy="-3.4">6</tspan><tspan dy="3.4"> HSPCs</tspan></text>
<!-- checks -->
<defs>
<path id="ck" d="M-3.7 0.4 L-3.1 0.1 L-1.1 3.2 C0 -0.5 1.8 -3.3 3.9 -4.8 L4.1 -4.4 C2.2 -2.6 0.4 0.5 -0.6 4.7 L-1.5 4.7 Z" fill="#111" stroke="#111" stroke-width="0.35" stroke-linejoin="round"/>
<path id="xx" d="M-3 -2.8L3 2.8M3 -2.8L-3 2.8" fill="none" stroke="#c0283c" stroke-width="1.3"/>
</defs>
<use href="#ck" x="390.9" y="474.1"/>
<use href="#ck" x="409.7" y="474.1"/>
<use href="#xx" transform="translate(428.5 474.8) scale(0.85)"/>
<use href="#ck" x="447.3" y="474.1"/>
<use href="#xx" transform="translate(465.9 474.8) scale(0.85)"/>
<use href="#ck" x="484.4" y="474.1"/>
<use href="#ck" x="503.5" y="474.1"/>
<use href="#ck" x="390.9" y="491"/>
<use href="#ck" x="409.7" y="491"/>
<use href="#ck" x="428.5" y="491"/>
<use href="#ck" x="447.3" y="491"/>
<use href="#ck" x="465.9" y="491"/>
<use href="#ck" x="484.4" y="491"/>
<use href="#ck" x="503.5" y="491"/>
<!-- legend -->
<text x="313" y="514.2" font-size="7.6" fill="#222">Legend:</text>
<line x1="313" y1="515.9" x2="339.5" y2="515.9" stroke="#444" stroke-width="0.6"/>
<use href="#ck" transform="translate(312 524.2) scale(0.7)"/>
<use href="#xx" transform="translate(312.6 533.5) scale(1.05)"/>
<g font-size="7.2" fill="#222">
<text x="318.6" y="526.7">= VH region present</text>
<text x="318.6" y="536.7" font-size="7.8">= VH region absent</text>
<text x="310.6" y="546.7">Tx = No. of GT cells engrafted</text>
</g>
</g>

<!-- border -->
<rect x="0.5" y="0.5" width="519" height="600" fill="none" stroke="#555" stroke-width="1.2"/>
</svg>
</body></html>
